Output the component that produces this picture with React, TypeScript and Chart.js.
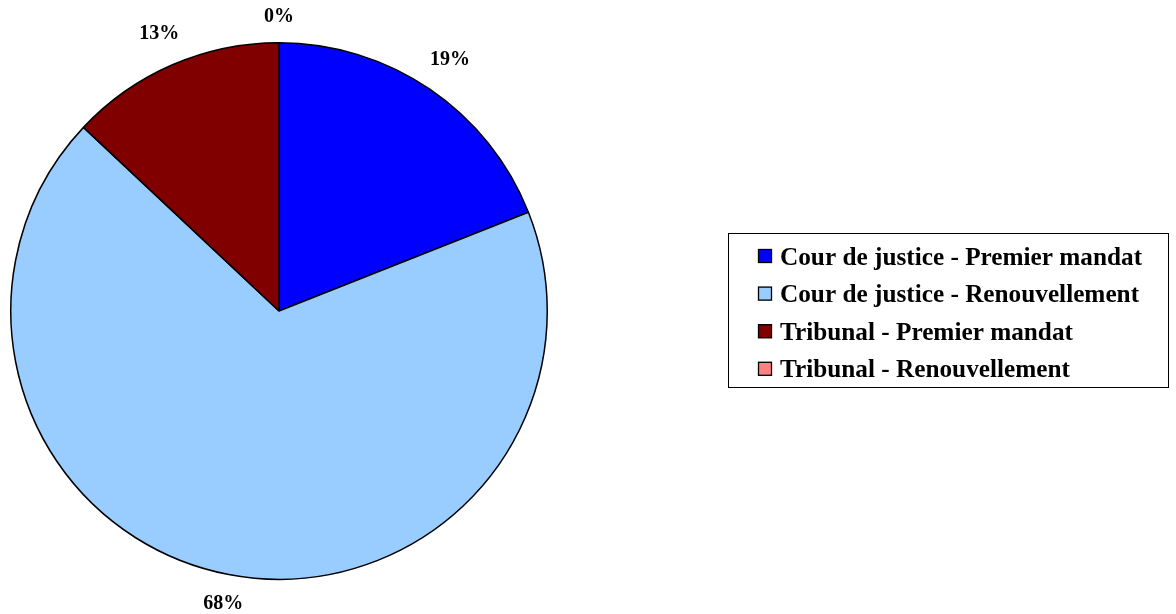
import React, { useEffect, useRef } from "react";
import { Chart, registerables } from "chart.js";

Chart.register(...registerables);

const categories = [
  "Cour de justice - Premier mandat",
  "Cour de justice - Renouvellement",
  "Tribunal - Premier mandat",
  "Tribunal - Renouvellement",
];
const shares = [19, 68, 13, 0];
const percentLabels = ["19%", "68%", "13%", "0%"];
const sliceColors = ["#0000FF", "#99CCFF", "#800000", "#FF8080"];

const FONT = '"Liberation Serif", "DejaVu Serif", serif';

const outsideLabels = {
  id: "outsideLabels",
  afterDatasetsDraw(chart: any) {
    const ctx = chart.ctx;
    const meta = chart.getDatasetMeta(0);
    ctx.save();
    ctx.font = `bold 20px ${FONT}`;
    ctx.fillStyle = "#000";
    ctx.textAlign = "center";
    ctx.textBaseline = "middle";
    meta.data.forEach((arc: any, i: number) => {
      const { x, y, startAngle, endAngle, outerRadius } = arc.getProps(
        ["x", "y", "startAngle", "endAngle", "outerRadius"],
        true
      );
      const mid = (startAngle + endAngle) / 2;
      const ux = Math.cos(mid);
      const uy = Math.sin(mid);
      const text = percentLabels[i];
      const hw = ctx.measureText(text).width / 2;
      const hh = 7;
      const d = outerRadius + 19 + Math.abs(ux) * hw + Math.abs(uy) * hh;
      ctx.fillText(text, x + ux * d, y + uy * d);
    });
    ctx.restore();
  },
};

const boxedLegend = {
  id: "boxedLegend",
  afterDraw(chart: any) {
    const ctx = chart.ctx;
    ctx.save();
    ctx.strokeStyle = "#000";
    ctx.lineWidth = 1;
    ctx.strokeRect(728.5, 233.5, 440, 154);
    ctx.font = `bold 22px ${FONT}`;
    const longest = Math.max(...categories.map((c) => ctx.measureText(c).width));
    const size = (22 * 362) / longest;
    ctx.font = `bold ${size.toFixed(2)}px ${FONT}`;
    ctx.textAlign = "left";
    ctx.textBaseline = "alphabetic";
    categories.forEach((label, i) => {
      const cy = 256 + i * 37.6;
      ctx.fillStyle = sliceColors[i];
      ctx.fillRect(758, cy - 7, 14, 14);
      ctx.strokeStyle = "#000";
      ctx.lineWidth = 1.3;
      ctx.strokeRect(758.5, cy - 6.5, 13, 13);
      ctx.fillStyle = "#000";
      ctx.fillText(label, 780, cy + 8.5);
    });
    ctx.restore();
  },
};

export default function App() {
  const ref = useRef<HTMLCanvasElement | null>(null);
  useEffect(() => {
    document.body.style.margin = "0";
    const chart = new Chart(ref.current as HTMLCanvasElement, {
      type: "pie",
      data: {
        labels: categories,
        datasets: [
          {
            data: shares,
            backgroundColor: sliceColors,
            borderColor: "#000",
            borderWidth: 1.5,
          },
        ],
      },
      options: {
        responsive: false,
        animation: false,
        devicePixelRatio: 1,
        layout: { padding: { left: 10, right: 628, top: 42, bottom: 34 } },
        plugins: {
          legend: { display: false },
          tooltip: { enabled: false },
        },
      },
      plugins: [outsideLabels, boxedLegend],
    });
    return () => chart.destroy();
  }, []);
  return (
    <div style={{ position: "absolute", left: 0, top: 0, width: 1176, height: 614, background: "#fff" }}>
      <canvas ref={ref} width={1176} height={614} />
    </div>
  );
}
